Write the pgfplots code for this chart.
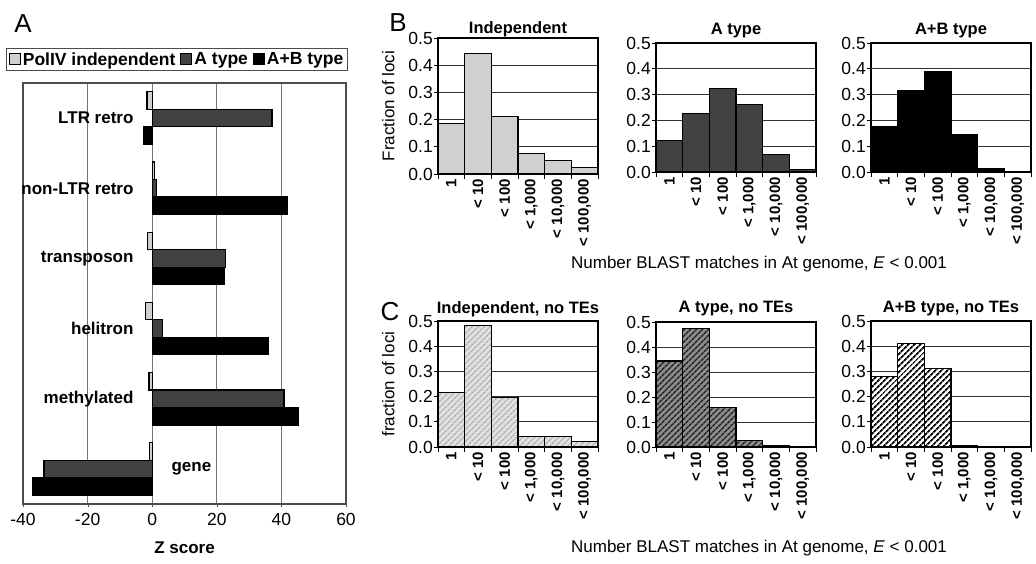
\documentclass[border=0pt]{standalone}
\usepackage{fontspec}
\setmainfont{Liberation Sans}
\usepackage{pgfplots}
\pgfplotsset{compat=1.18}
\usetikzlibrary{patterns.meta}
\definecolor{lg}{HTML}{D0D0D0}
\definecolor{dg}{HTML}{424242}
\newcommand{\fs}[1]{\fontsize{#1}{#1}\selectfont}
\pgfplotsset{
 hist/.style={scale only axis, width=160pt, xmin=0, xmax=6, ymin=0, ymax=0.5, ybar, bar width=1,
  ytick={0,0.1,0.2,0.3,0.4,0.5}, yticklabels={0.0,0.1,0.2,0.3,0.4,0.5},
  xtick={0.5,1.5,2.5,3.5,4.5,5.5}, xticklabels={1,< 10,< 100,{< 1,000},{< 10,000},{< 100,000}},
  minor xtick={0,1,2,3,4,5,6},
  major x tick style={draw=none},
  tick align=outside, tick pos=left, major tick length=4pt, minor tick length=5pt,
  x tick label style={rotate=90, anchor=east, font=\bfseries\fs{15}, inner sep=1pt},
  y tick label style={font=\fs{17.5}, inner sep=1pt},
  ymajorgrids, grid style={black!80, line width=0.8pt},
  axis line style={black, line width=1.1pt},
  tick style={black, line width=0.8pt},
  title style={font=\bfseries\fs{16.5}, at={(axis description cs:0.5,1)}, anchor=base, inner sep=0pt},
  ylabel style={font=\fs{17}, at={(axis description cs:-0.31,0.5)}, anchor=center},
  every axis plot/.append style={draw=black, line width=1.1pt, bar shift=0pt},
 }
}
\begin{document}
\begin{tikzpicture}
\path[use as bounding box] (0pt,0pt) rectangle (1036pt,-563pt);
% ---------------- Panel A
\begin{axis}[at={(23pt,-504pt)}, anchor=south west, scale only axis, width=323pt, height=421pt,
 xmin=-40, xmax=60, ymin=0, ymax=6, y dir=reverse, xbar, bar width=0.25,
 xtick={-40,-20,0,20,40,60}, xticklabels={-40,-20,0,20,40,60}, ytick=\empty,
 xmajorgrids, grid style={black!55, line width=0.8pt},
 axis line style={black!70, line width=1.2pt}, tick align=outside, tick pos=bottom,
 major tick length=3pt, tick style={black!70},
 x tick label style={font=\fs{17.5}, yshift=-3pt},
 xlabel={\bfseries Z score}, xlabel style={font=\fs{17}, yshift=-9pt},
 every axis plot/.append style={draw=black, line width=1.1pt, bar shift=0pt},
 legend columns=3, legend cell align=left,
 legend image code/.code={\draw[#1,line width=1pt] (0pt,-5.5pt) rectangle (11pt,5.5pt);},
 legend style={at={(axis description cs:0.477,1.0285)}, anchor=south, draw=black!70, line width=1pt,
   font=\bfseries\fs{17.5}, inner sep=2pt, /tikz/every even column/.append style={column sep=3pt}},
]
\addplot[fill=lg] coordinates {(-1.6,0.25) (0.8,1.25) (-1.5,2.25) (-2.0,3.25) (-1.0,4.25) (-0.7,5.25)};
\addplot[fill=dg] coordinates {(37.1,0.5) (1.4,1.5) (22.6,2.5) (3.1,3.5) (40.8,4.5) (-33.5,5.5)};
\addplot[fill=black] coordinates {(-2.6,0.75) (41.9,1.75) (22.3,2.75) (36.0,3.75) (45.3,4.75) (-37.0,5.75)};
\legend{PolIV independent,A type,A+B type}
\node[anchor=east, font=\bfseries\fs{17}] at (axis cs:-4.7,0.5) {LTR retro};
\node[anchor=east, font=\bfseries\fs{17}] at (axis cs:-4.7,1.5) {non-LTR retro};
\node[anchor=east, font=\bfseries\fs{17}] at (axis cs:-4.7,2.5) {transposon};
\node[anchor=east, font=\bfseries\fs{17}] at (axis cs:-4.7,3.5) {helitron};
\node[anchor=east, font=\bfseries\fs{17}] at (axis cs:-4.7,4.5) {methylated};
\node[anchor=west, font=\bfseries\fs{17}] at (axis cs:4.9,5.5) {gene};
\end{axis}
% ---------------- Panel B
\begin{axis}[hist, at={(438pt,-174pt)}, anchor=south west, height=136pt, title={Independent}, title style={yshift=-1pt}, ylabel={Fraction of loci}]
\addplot[fill=lg] coordinates {(0.5,0.187) (1.5,0.443) (2.5,0.210) (3.5,0.074) (4.5,0.051) (5.5,0.023)};
\end{axis}
\begin{axis}[hist, at={(656pt,-172pt)}, anchor=south west, height=129pt, title={A type}, title style={yshift=3pt}]
\addplot[fill=dg] coordinates {(0.5,0.123) (1.5,0.227) (2.5,0.322) (3.5,0.262) (4.5,0.069) (5.5,0.009)};
\end{axis}
\begin{axis}[hist, at={(871pt,-172pt)}, anchor=south west, height=129pt, title={A+B type}, title style={yshift=3pt}]
\addplot[fill=black] coordinates {(0.5,0.177) (1.5,0.317) (2.5,0.388) (3.5,0.147) (4.5,0.012) (5.5,0.0)};
\end{axis}
% ---------------- Panel C
\begin{axis}[hist, at={(438pt,-447pt)}, anchor=south west, height=126pt, title={Independent, no TEs}, title style={yshift=2pt}, ylabel={fraction of loci}]
\addplot[fill=black!12, postaction={pattern={Lines[angle=45,distance=4pt,line width=1.1pt]}, pattern color=black!35}] coordinates {(0.5,0.217) (1.5,0.481) (2.5,0.198) (3.5,0.040) (4.5,0.041) (5.5,0.021)};
\end{axis}
\begin{axis}[hist, at={(656pt,-447pt)}, anchor=south west, height=125pt, title={A type, no TEs}, title style={yshift=4pt}]
\addplot[fill=black!45, postaction={pattern={Lines[angle=45,distance=4pt,line width=1.5pt]}, pattern color=black!90}] coordinates {(0.5,0.344) (1.5,0.474) (2.5,0.159) (3.5,0.027) (4.5,0.005) (5.5,0.0)};
\end{axis}
\begin{axis}[hist, at={(871pt,-447pt)}, anchor=south west, height=126pt, title={A+B type, no TEs}, title style={yshift=3pt}]
\addplot[fill=white, postaction={pattern={Lines[angle=45,distance=4pt,line width=1.9pt]}, pattern color=black}] coordinates {(0.5,0.279) (1.5,0.409) (2.5,0.310) (3.5,0.005) (4.5,0.0) (5.5,0.0)};
\end{axis}
% ---------------- Labels
\node[font=\fs{26}] at (23pt,-24pt) {A};
\node[font=\fs{26}] at (398pt,-22.5pt) {B};
\node[font=\fs{26}] at (390pt,-312pt) {C};
\node[font=\fs{17}] at (759pt,-264pt) {Number BLAST matches in At genome, \textit{E} < 0.001};
\node[font=\fs{17}] at (759pt,-548pt) {Number BLAST matches in At genome, \textit{E} < 0.001};
\end{tikzpicture}
\end{document}
